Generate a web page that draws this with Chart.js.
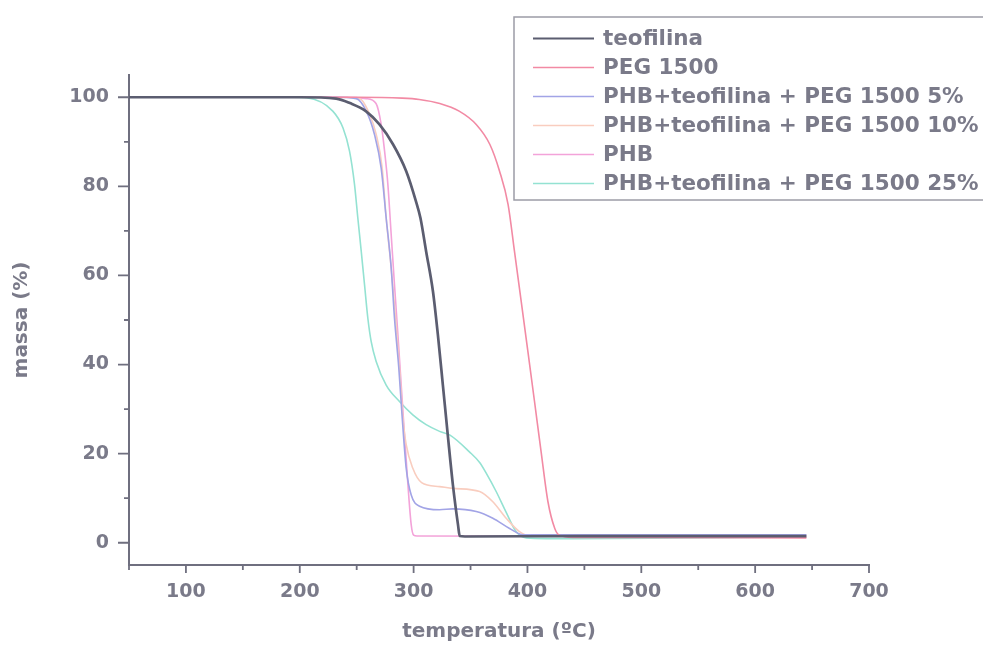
<!DOCTYPE html>
<html>
<head>
<meta charset="utf-8">
<script src="https://cdn.jsdelivr.net/npm/chart.js@4.4.1/dist/chart.umd.min.js"></script>
<style>
  html, body { margin: 0; padding: 0; background: #ffffff; }
  #wrap { width: 983px; height: 646px; }
</style>
</head>
<body>
<div id="wrap"><canvas id="tga" width="983" height="646"></canvas></div>
<script>
// Thermogravimetric curves: residual mass (%) versus temperature (ºC)

const seriesLabels = [
  'teofilina',
  'PEG 1500',
  'PHB+teofilina + PEG 1500 5%',
  'PHB+teofilina + PEG 1500 10%',
  'PHB',
  'PHB+teofilina + PEG 1500 25%'
];

const teofilinaT = [50, 200, 232, 244, 258, 270, 282, 293.5, 302, 306, 311, 317, 321.3, 325.7, 330, 334.5, 339, 340.5, 345, 450, 645];
const teofilinaM = [100, 100, 99.7, 98.7, 96.9, 93.9, 89.4, 83.4, 76.7, 72.9, 65.4, 56.4, 46.7, 35.4, 24.2, 13, 4, 1.5, 1.4, 1.5, 1.5];

const pegT = [50, 250, 290, 305, 323, 340, 355, 367, 375.5, 383, 388.6, 394.5, 400.4, 406.2, 412, 418, 424, 428, 440, 645];
const pegM = [100, 100, 99.8, 99.5, 98.6, 96.9, 93.9, 89.4, 83.4, 75.9, 65.4, 54.2, 42.9, 31.7, 20.4, 9.2, 3.2, 1.7, 1.2, 1.1];

const peg5T = [50, 230, 249.6, 258.4, 265.7, 271.5, 275.9, 280.3, 283.2, 287, 290, 293.5, 297.9, 305.2, 322.8, 334.5, 355, 369.6, 384.3, 396, 410, 645];
const peg5M = [100, 100, 99.7, 96.9, 91.6, 84.1, 72.9, 61.7, 50.4, 39.2, 28, 16.7, 10.7, 8.2, 7.4, 7.6, 7, 5.5, 3.2, 1.8, 1.8, 1.8];

const peg10T = [50, 230, 252.5, 261.3, 267.2, 272.4, 275.9, 280.3, 284.2, 287.6, 290.6, 293.5, 299.3, 307, 322.8, 334.5, 358, 369.6, 381.3, 393, 402, 645];
const peg10M = [100, 100, 99.7, 96.2, 91.6, 84.1, 72.9, 61.7, 50.4, 39.2, 28, 22, 16.7, 13.5, 12.6, 12.2, 11.5, 9.2, 5.5, 2.5, 1.6, 1.6];

const phbT = [50, 240, 258.4, 267, 271.5, 274.5, 277.4, 280.3, 283.2, 286.2, 289.1, 292, 295, 297.9, 300, 303, 645];
const phbM = [100, 100, 99.7, 98.6, 93.9, 87.9, 80.4, 69.2, 57.9, 46.7, 35.4, 24.2, 13, 4, 1.7, 1.5, 1.4];

const peg25T = [50, 195, 206, 229, 238, 243.7, 248.1, 251, 254, 256.9, 259.8, 262.7, 267.1, 275.9, 287.6, 299.3, 311, 322.8, 331.6, 349, 358, 364, 372.5, 381, 390, 399, 440, 645];
const peg25M = [100, 100, 99.9, 96.9, 93.1, 87.9, 80.4, 72.9, 65.4, 57.9, 50.4, 45.2, 40.7, 35.4, 31.7, 28.7, 26.5, 25, 24.2, 20.4, 18, 15.5, 11.5, 7, 2.5, 1.1, 0.9, 1.3];

const xTickValues = [100, 200, 300, 400, 500, 600, 700];
const xMinorValues = [50, 150, 250, 350, 450, 550, 650];
const yTickValues = [0, 20, 40, 60, 80, 100];
const yMinorValues = [10, 30, 50, 70, 90];

const lineColors = ['#5b5d70', '#f28aa4', '#a2a4e6', '#f9cdbf', '#f3a3d9', '#94e2d2'];
const lineWidths = [2.7, 1.6, 1.6, 1.6, 1.6, 1.6];

const temps = [teofilinaT, pegT, peg5T, peg10T, phbT, peg25T];
const masses = [teofilinaM, pegM, peg5M, peg10M, phbM, peg25M];

const textColor = '#7a7a89';
const axisColor = '#6f6f7f';
const fontFamily = '"DejaVu Sans", "Liberation Sans", sans-serif';

const datasets = seriesLabels.map((label, i) => ({
  label: label,
  data: temps[i].map((t, k) => ({ x: t, y: masses[i][k] })),
  borderColor: lineColors[i],
  backgroundColor: lineColors[i],
  borderWidth: lineWidths[i],
  pointRadius: 0,
  fill: false,
  cubicInterpolationMode: 'monotone'
}));

// Tick marks (major and minor, pointing outward) and the boxed legend
const decorations = {
  id: 'decorations',
  afterDraw(chart) {
    const ctx = chart.ctx;
    const xs = chart.scales.x;
    const ys = chart.scales.y;
    const area = chart.chartArea;
    ctx.save();
    ctx.strokeStyle = axisColor;
    ctx.lineWidth = 1.8;
    ctx.beginPath();
    yTickValues.forEach(v => { const p = ys.getPixelForValue(v); ctx.moveTo(area.left - 11, p); ctx.lineTo(area.left, p); });
    yMinorValues.forEach(v => { const p = ys.getPixelForValue(v); ctx.moveTo(area.left - 5, p); ctx.lineTo(area.left, p); });
    xTickValues.forEach(v => { const p = xs.getPixelForValue(v); ctx.moveTo(p, area.bottom); ctx.lineTo(p, area.bottom + 8); });
    xMinorValues.forEach(v => { const p = xs.getPixelForValue(v); ctx.moveTo(p, area.bottom); ctx.lineTo(p, area.bottom + 5); });
    ctx.stroke();

    // legend box, running off the right edge of the canvas
    const bx = 514, by = 17, bw = 520, bh = 183;
    ctx.fillStyle = '#ffffff';
    ctx.fillRect(bx, by, bw, bh);
    ctx.strokeStyle = '#9c9ca6';
    ctx.lineWidth = 1.5;
    ctx.strokeRect(bx, by, bw, bh);

    ctx.font = 'bold 21.5px ' + fontFamily;
    ctx.textBaseline = 'middle';
    ctx.textAlign = 'left';
    chart.data.datasets.forEach((ds, i) => {
      const y = 38.5 + i * 29;
      ctx.strokeStyle = ds.borderColor;
      ctx.lineWidth = i === 0 ? 2.2 : 1.5;
      ctx.beginPath();
      ctx.moveTo(533, y);
      ctx.lineTo(594, y);
      ctx.stroke();
      ctx.fillStyle = textColor;
      ctx.fillText(ds.label, 603, y + 1);
    });
    ctx.restore();
  }
};

new Chart(document.getElementById('tga'), {
  type: 'line',
  data: { datasets: datasets },
  options: {
    responsive: false,
    animation: false,
    layout: { padding: { top: 75, right: 114, bottom: 0, left: 0 } },
    plugins: { legend: { display: false }, tooltip: { enabled: false } },
    scales: {
      x: {
        type: 'linear',
        min: 50,
        max: 700,
        afterBuildTicks: s => { s.ticks = xTickValues.map(v => ({ value: v })); },
        afterFit: s => { s.height = 81; },
        grid: { display: true, drawOnChartArea: false, drawTicks: false, color: 'rgba(0,0,0,0)' },
        border: { display: true, color: axisColor, width: 2 },
        ticks: { color: textColor, padding: 16, maxRotation: 0, font: { family: fontFamily, size: 19, weight: 'bold' } },
        title: { display: true, text: 'temperatura (ºC)', color: textColor, padding: { top: 0, bottom: 2 }, font: { family: fontFamily, size: 20, weight: 'bold' } }
      },
      y: {
        type: 'linear',
        min: -5,
        max: 105,
        afterBuildTicks: s => { s.ticks = yTickValues.map(v => ({ value: v })); },
        afterFit: s => { s.width = 129; },
        grid: { display: true, drawOnChartArea: false, drawTicks: false, color: 'rgba(0,0,0,0)' },
        border: { display: true, color: axisColor, width: 2 },
        ticks: { color: textColor, padding: 20, font: { family: fontFamily, size: 19, weight: 'bold' } },
        title: { display: true, text: 'massa (%)', color: textColor, padding: { top: 10, bottom: 0 }, font: { family: fontFamily, size: 20, weight: 'bold' } }
      }
    }
  },
  plugins: [decorations]
});
</script>
</body>
</html>
